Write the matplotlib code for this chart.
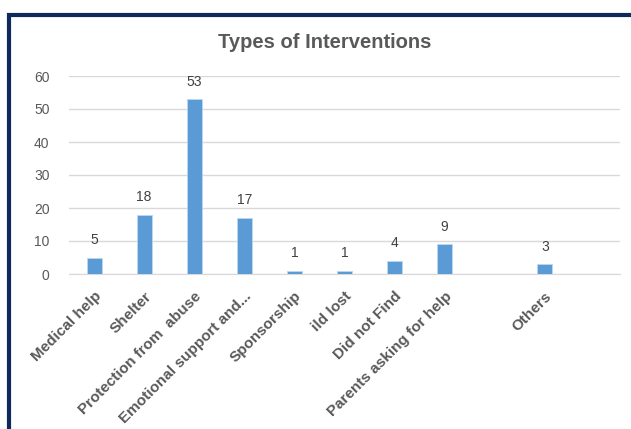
import numpy as np
import matplotlib.pyplot as plt
from matplotlib.patches import Rectangle

# categories (two empty slots as in the original sheet)
categories = ["Medical help", "Shelter", "Protection from  abuse", "Emotional support and...",
              "Sponsorship", "ild lost", "Did not Find", "Parents asking for help",
              "", "Others", ""]
counts = [5, 18, 53, 17, 1, 1, 4, 9, None, 3, None]

grey = "#595959"
bar_color = "#5B9BD5"

fig = plt.figure(figsize=(6.31, 4.29), dpi=100)
ax = fig.add_axes([69 / 631, 1 - 274 / 429, 551 / 631, 198 / 429])

x = np.arange(len(categories))
vals = [v if v is not None else 0 for v in counts]
ax.bar(x, vals, width=0.3, color=bar_color, edgecolor="#BDD7EE", linewidth=0.6, zorder=3)
for xi, v in zip(x, counts):
    if v is not None:
        ax.text(xi, v + 3.2, str(v), ha="center", va="bottom", fontsize=10,
                color="#404040", family="Liberation Sans")

ax.set_xlim(-0.5, len(categories) - 0.5)
ax.set_ylim(0, 60)
ax.set_yticks(range(0, 61, 10))
ax.yaxis.grid(True, color="#D9D9D9", linewidth=1, zorder=0)
ax.tick_params(axis="y", length=0, labelsize=10, labelcolor=grey, pad=14)
for lab in ax.get_yticklabels():
    lab.set_family("Liberation Sans")
ax.tick_params(axis="x", length=0, pad=11)
ax.set_xticks(x)
ax.set_xticklabels(categories, rotation=45, ha="right", rotation_mode="anchor",
                   fontsize=11, fontweight="bold", color=grey, family="Liberation Sans")
for s in ["top", "right", "left"]:
    ax.spines[s].set_visible(False)
ax.spines["bottom"].set_color("#D9D9D9")

fig.text(325 / 631, 1 - 43 / 429, "Types of Interventions", ha="center", va="center",
         fontsize=14.5, fontweight="bold", color=grey, family="Liberation Sans")

# frame around the chart, cut off at right and bottom
fig.patches.append(Rectangle((9 / 631, -0.1), 1.2, 1 - 15 / 429 + 0.1, transform=fig.transFigure,
                             fill=False, edgecolor="#0E2A5C", linewidth=3))

fig.savefig("out.png", dpi=100)
